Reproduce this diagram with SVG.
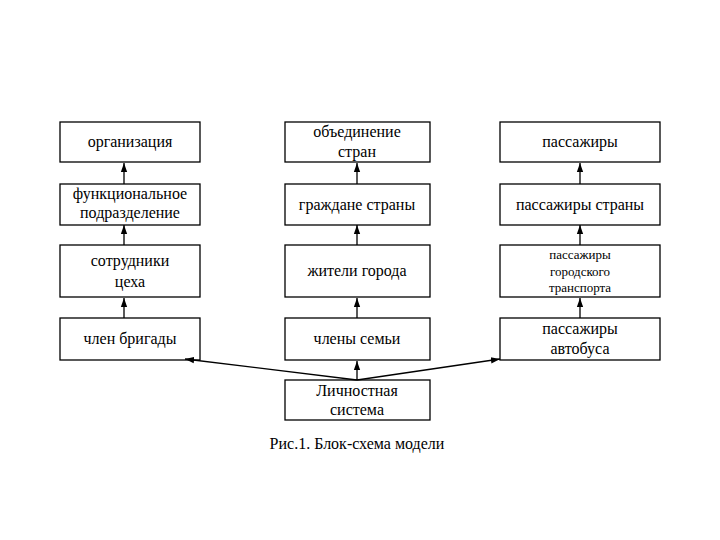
<svg xmlns="http://www.w3.org/2000/svg" width="720" height="540" viewBox="0 0 720 540" font-family="'Liberation Serif', 'DejaVu Serif', serif">
<defs>
<marker id="ah" viewBox="0 0 10 10" refX="10" refY="5" markerWidth="7" markerHeight="7" orient="auto"><path d="M0,1.5 L10,5 L0,8.5 z" fill="#000"/></marker>
<style>
rect{fill:#fff;stroke:#000;stroke-width:1.3}
text{font-family:'Liberation Serif','DejaVu Serif',serif;font-size:16px;text-anchor:middle;fill:#000}
.c line{stroke:#000;stroke-width:1.3;marker-end:url(#ah)}
</style>
</defs>
<rect x="0" y="0" width="720" height="540" style="stroke:none"/>
<g id="n1"><rect x="60" y="122" width="140" height="40"/><text x="130" y="147">организация</text></g>
<g id="n2"><rect x="60" y="184" width="140" height="41"/><text x="130" y="199">функциональное</text><text x="130" y="218">подразделение</text></g>
<g id="n3"><rect x="60" y="245" width="140" height="52"/><text x="130" y="266">сотрудники</text><text x="130" y="287">цеха</text></g>
<g id="n4"><rect x="60" y="318" width="140" height="42"/><text x="130" y="344">член бригады</text></g>
<g id="n5"><rect x="285" y="122" width="145" height="40"/><text x="357" y="137">объединение</text><text x="357" y="157">стран</text></g>
<g id="n6"><rect x="285" y="184" width="145" height="41"/><text x="357" y="210">граждане страны</text></g>
<g id="n7"><rect x="285" y="245" width="145" height="52"/><text x="357" y="276">жители  города</text></g>
<g id="n8"><rect x="285" y="318" width="145" height="42"/><text x="357" y="344">члены семьи</text></g>
<g id="n9"><rect x="500" y="122" width="160" height="40"/><text x="580" y="147">пассажиры</text></g>
<g id="n10"><rect x="500" y="184" width="160" height="41"/><text x="580" y="210">пассажиры страны</text></g>
<g id="n11"><rect x="500" y="245" width="160" height="52"/><text x="580" y="259" style="font-size:13px">пассажиры</text><text x="580" y="276" style="font-size:13px">городского</text><text x="580" y="292" style="font-size:13px">транспорта</text></g>
<g id="n12"><rect x="500" y="318" width="160" height="42"/><text x="580" y="334">пассажиры</text><text x="580" y="354">автобуса</text></g>
<g id="n13"><rect x="285" y="380" width="145" height="40"/><text x="357" y="396">Личностная</text><text x="357" y="415">система</text></g>
<g class="c" id="connectors">
<line x1="124" y1="184" x2="124" y2="163"/>
<line x1="124" y1="245" x2="124" y2="225"/>
<line x1="124" y1="318" x2="124" y2="298"/>
<line x1="357" y1="184" x2="357" y2="163"/>
<line x1="357" y1="245" x2="357" y2="225"/>
<line x1="357" y1="318" x2="357" y2="298"/>
<line x1="357" y1="380" x2="357" y2="361"/>
<line x1="580" y1="184" x2="580" y2="163"/>
<line x1="580" y1="245" x2="580" y2="225"/>
<line x1="580" y1="318" x2="580" y2="298"/>
<line x1="357" y1="380" x2="185" y2="359"/>
<line x1="357" y1="380" x2="500" y2="359"/>
</g>
<text x="357" y="449">Рис.1. Блок-схема модели</text>
</svg>
